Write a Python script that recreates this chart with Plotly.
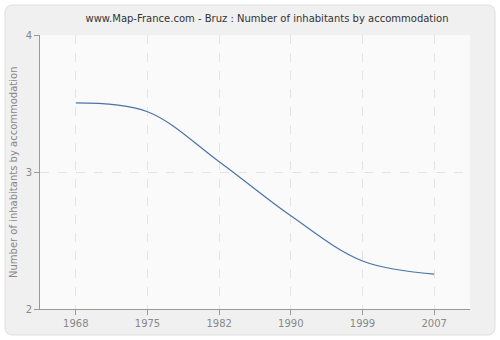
import plotly.graph_objects as go

years = ["1968", "1975", "1982", "1990", "1999", "2007"]
values = [3.505, 3.44, 3.075, 2.68, 2.35, 2.255]

W, H = 500, 340
ml, mr, mt, mb = 40, 30, 35, 31
pw, ph = W - ml - mr, H - mt - mb

def px_x(x):
    return (x - ml) / pw

def px_y(y):
    return (H - mb - y) / ph

fig = go.Figure()
fig.add_trace(go.Scatter(
    x=years, y=values, mode="lines",
    line=dict(color="#4a74a8", width=1.2, shape="spline", smoothing=1.0),
    hoverinfo="skip", showlegend=False,
))

# rounded outer panel
x0, x1 = px_x(5), px_x(495)
y0, y1 = px_y(335), px_y(5)
rx = 8 / pw
ry = 8 / ph
path = (f"M {x0+rx},{y0} L {x1-rx},{y0} Q {x1},{y0} {x1},{y0+ry} "
        f"L {x1},{y1-ry} Q {x1},{y1} {x1-rx},{y1} L {x0+rx},{y1} "
        f"Q {x0},{y1} {x0},{y1-ry} L {x0},{y0+ry} Q {x0},{y0} {x0+rx},{y0} Z")
fig.add_shape(type="path", path=path, xref="paper", yref="paper",
              fillcolor="#f0f0f0", line=dict(color="#dedede", width=1), layer="below")
fig.add_shape(type="rect", xref="paper", yref="paper", x0=0, x1=1, y0=0, y1=1,
              fillcolor="#fafafa", line=dict(width=0), layer="below")

fig.add_annotation(text="Number of inhabitants by accommodation",
                   xref="paper", yref="paper", x=px_x(13), y=px_y(172),
                   xanchor="center", yanchor="middle", textangle=-90, showarrow=False,
                   font=dict(size=10, color="#888888"))

fig.update_layout(
    width=W, height=H,
    margin=dict(l=ml, r=mr, t=mt, b=mb, autoexpand=False),
    paper_bgcolor="white",
    plot_bgcolor="rgba(0,0,0,0)",
    font=dict(family="DejaVu Sans, Verdana, sans-serif", size=10, color="#888888"),
    title=dict(text="www.Map-France.com - Bruz : Number of inhabitants by accommodation",
               x=0.534, xanchor="center", y=0.947, yanchor="middle",
               font=dict(size=10, color="#333333")),
    xaxis=dict(
        type="category", range=[-0.5, 5.5], automargin=False,
        showgrid=True, gridcolor="#e4e4e4", griddash="dash", gridwidth=1,
        showline=True, linecolor="#999999", linewidth=1,
        ticks="outside", ticklen=5, tickcolor="#999999",
        tickfont=dict(size=10, color="#888888"),
        zeroline=False, fixedrange=True,
    ),
    yaxis=dict(
        range=[2, 4], tickvals=[2, 3, 4], ticktext=["2", "3", "4"], automargin=False,
        showgrid=True, gridcolor="#e4e4e4", griddash="dash", gridwidth=1,
        showline=True, linecolor="#999999", linewidth=1,
        ticks="outside", ticklen=5, tickcolor="#999999",
        tickfont=dict(size=10, color="#888888"),
        zeroline=False, fixedrange=True,
    ),
)

fig.write_html("out.html")
